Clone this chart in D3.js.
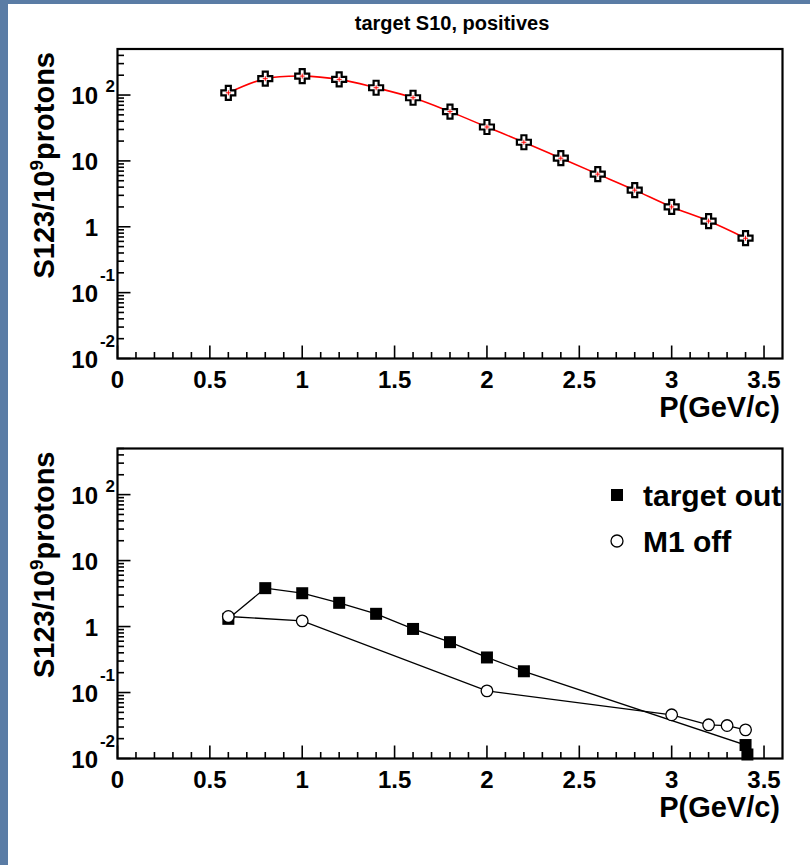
<!DOCTYPE html>
<html><head><meta charset="utf-8">
<script src="https://cdn.jsdelivr.net/npm/d3@7"></script>
<style>
body{margin:0;background:#5a7ca5;}
svg{display:block;}
text{font-family:"Liberation Sans",Arial,Helvetica,sans-serif;font-weight:bold;fill:#000;}
</style>
</head><body>
<svg id="chart" width="810" height="865"></svg>
<script>
// ---------- data ----------
const chartTitle = "target S10, positives";
const xTitle = "P(GeV/c)";
const legendLabels = ["target out", "M1 off"];

// top panel: positives rate vs momentum
const momenta = [0.6, 0.8, 1.0, 1.2, 1.4, 1.6, 1.8, 2.0, 2.2, 2.4, 2.6, 2.8, 3.0, 3.2, 3.4];
const positivesRate = [108, 177, 194, 173, 129, 91, 56, 32.7, 19.2, 11, 6.3, 3.6, 2.0, 1.22, 0.67];

// bottom panel
const targetOutP = [0.6, 0.8, 1.0, 1.2, 1.4, 1.6, 1.8, 2.0, 2.2, 3.4, 3.41];
const targetOutRate = [1.31, 3.82, 3.2, 2.29, 1.56, 0.92, 0.58, 0.34, 0.21, 0.016, 0.0115];
const m1OffP = [0.6, 1.0, 2.0, 3.0, 3.2, 3.3, 3.4];
const m1OffRate = [1.42, 1.22, 0.106, 0.046, 0.0324, 0.0316, 0.0272];

// axes
const xDomain = [0, 3.6];
const yDomain = [0.01, 500];
const xTickValues = [0, 0.5, 1, 1.5, 2, 2.5, 3, 3.5];
const xTickLabels = ["0", "0.5", "1", "1.5", "2", "2.5", "3", "3.5"];
const yTickValues = [0.01, 0.1, 1, 10, 100];
const yTickBase = ["10", "10", "1", "10", "10"];
const yTickExp = ["-2", "-1", "", "", "2"];

// ---------- drawing ----------
const svg = d3.select("#chart");
svg.append("rect").attr("x", 8).attr("y", 4).attr("width", 802).attr("height", 861).attr("fill", "#ffffff");

svg.append("text").attr("x", 452).attr("y", 30).attr("text-anchor", "middle")
  .style("font-size", "20px").text(chartTitle);

const left = 117.5, right = 782.5;
const x = d3.scaleLinear().domain(xDomain).range([left, right]);

function panel(top, bottom) {
  const y = d3.scaleLog().domain(yDomain).range([bottom, top]);
  const g = svg.append("g");
  // minor x ticks
  const minorX = d3.range(0, 36).map(i => i / 10).filter(v => Math.abs(v * 2 - Math.round(v * 2)) > 1e-6);
  g.selectAll(".mx").data(minorX).join("line")
    .attr("x1", d => x(d)).attr("x2", d => x(d)).attr("y1", bottom).attr("y2", bottom - 6.5)
    .attr("stroke", "#000").attr("stroke-width", 1.6);
  g.selectAll(".Mx").data(xTickValues).join("line")
    .attr("x1", d => x(d)).attr("x2", d => x(d)).attr("y1", bottom).attr("y2", bottom - 13)
    .attr("stroke", "#000").attr("stroke-width", 1.6);
  g.selectAll(".xl").data(xTickValues).join("text")
    .attr("x", d => x(d)).attr("y", bottom + 29).attr("text-anchor", "middle")
    .style("font-size", "24px").text((d, i) => xTickLabels[i]);
  // y ticks
  const minorY = [];
  for (let e = -2; e <= 2; e++) for (let m = 2; m <= 9; m++) { const v = m * Math.pow(10, e); if (v <= yDomain[1]) minorY.push(v); }
  g.selectAll(".my").data(minorY).join("line")
    .attr("x1", left).attr("x2", left + 6.5).attr("y1", d => y(d)).attr("y2", d => y(d))
    .attr("stroke", "#000").attr("stroke-width", 1.6);
  g.selectAll(".My").data(yTickValues).join("line")
    .attr("x1", left).attr("x2", left + 13).attr("y1", d => y(d)).attr("y2", d => y(d))
    .attr("stroke", "#000").attr("stroke-width", 1.6);
  g.selectAll(".yl").data(yTickValues).join("text")
    .attr("x", 98).attr("y", d => y(d) + 9).attr("text-anchor", "end")
    .style("font-size", "24px").text((d, i) => yTickBase[i]);
  g.selectAll(".ye").data(yTickValues).join("text")
    .attr("x", 115).attr("y", (d, i) => y(d) + (yTickExp[i].startsWith("-") ? -12 : -3))
    .attr("text-anchor", "end").style("font-size", "17px").text((d, i) => yTickExp[i]);
  // y title
  const yt = g.append("text")
    .attr("transform", `translate(54,${top + 3}) rotate(-90)`)
    .attr("text-anchor", "end").style("font-size", "29px");
  yt.append("tspan").text("S123/10");
  yt.append("tspan").attr("dy", -11).style("font-size", "19px").text("9");
  yt.append("tspan").attr("dy", 11).text("protons");
  // x title
  g.append("text").attr("x", 780).attr("y", bottom + 58).attr("text-anchor", "end")
    .style("font-size", "29px").text(xTitle);
  return {g, y};
}

function frame(top, bottom) {
  svg.append("rect").attr("x", left).attr("y", top).attr("width", right - left).attr("height", bottom - top)
    .attr("fill", "none").attr("stroke", "#000").attr("stroke-width", 2.2);
}

// ----- top panel -----
const P1 = panel(49, 358.5);
const topPts = momenta.map((m, i) => [m, positivesRate[i]]);
P1.g.append("path").datum(topPts)
  .attr("d", d3.line().x(d => x(d[0])).y(d => P1.y(d[1])).curve(d3.curveCatmullRom.alpha(0.5)))
  .attr("fill", "none").attr("stroke", "#ff0000").attr("stroke-width", 1.6);
const a = 7, t = 2.5;
const crossPath = `M${-t},${-a}L${t},${-a}L${t},${-t}L${a},${-t}L${a},${t}L${t},${t}L${t},${a}L${-t},${a}L${-t},${t}L${-a},${t}L${-a},${-t}L${-t},${-t}Z`;
P1.g.selectAll(".cross").data(topPts).join("path")
  .attr("transform", d => `translate(${x(d[0])},${P1.y(d[1])})`)
  .attr("d", crossPath).attr("fill", "#fff").attr("stroke", "#000").attr("stroke-width", 2.2);
P1.g.selectAll(".err").data(topPts).join("path")
  .attr("transform", d => `translate(${x(d[0])},${P1.y(d[1])})`)
  .attr("d", "M-2.5,0H2.5M0,-2.5V2.5").attr("stroke", "#ff0000").attr("stroke-width", 1);
frame(49, 358.5);

// ----- bottom panel -----
const P2 = panel(448.5, 758.5);
const toPts = targetOutP.map((p, i) => [p, targetOutRate[i]]);
const m1Pts = m1OffP.map((p, i) => [p, m1OffRate[i]]);
const lineGen = d3.line().x(d => x(d[0])).y(d => P2.y(d[1]));
P2.g.append("path").datum(toPts).attr("d", lineGen).attr("fill", "none").attr("stroke", "#000").attr("stroke-width", 1.3);
P2.g.append("path").datum(m1Pts).attr("d", lineGen).attr("fill", "none").attr("stroke", "#000").attr("stroke-width", 1.3);
P2.g.selectAll(".sq").data(toPts).join("rect")
  .attr("x", d => x(d[0]) - 6).attr("y", d => P2.y(d[1]) - 6).attr("width", 12).attr("height", 12).attr("fill", "#000");
P2.g.selectAll(".ci").data(m1Pts).join("circle")
  .attr("cx", d => x(d[0])).attr("cy", d => P2.y(d[1])).attr("r", 5.8)
  .attr("fill", "#fff").attr("stroke", "#000").attr("stroke-width", 1.3);
// legend
const lg = svg.append("g");
lg.append("rect").attr("x", 611).attr("y", 489).attr("width", 12).attr("height", 12).attr("fill", "#000");
lg.append("circle").attr("cx", 617).attr("cy", 541).attr("r", 6).attr("fill", "#fff").attr("stroke", "#000").attr("stroke-width", 1.3);
lg.append("text").attr("x", 643).attr("y", 506).style("font-size", "30px").text(legendLabels[0]);
lg.append("text").attr("x", 643).attr("y", 552).style("font-size", "30px").text(legendLabels[1]);
frame(448.5, 758.5);
</script>
</body></html>
